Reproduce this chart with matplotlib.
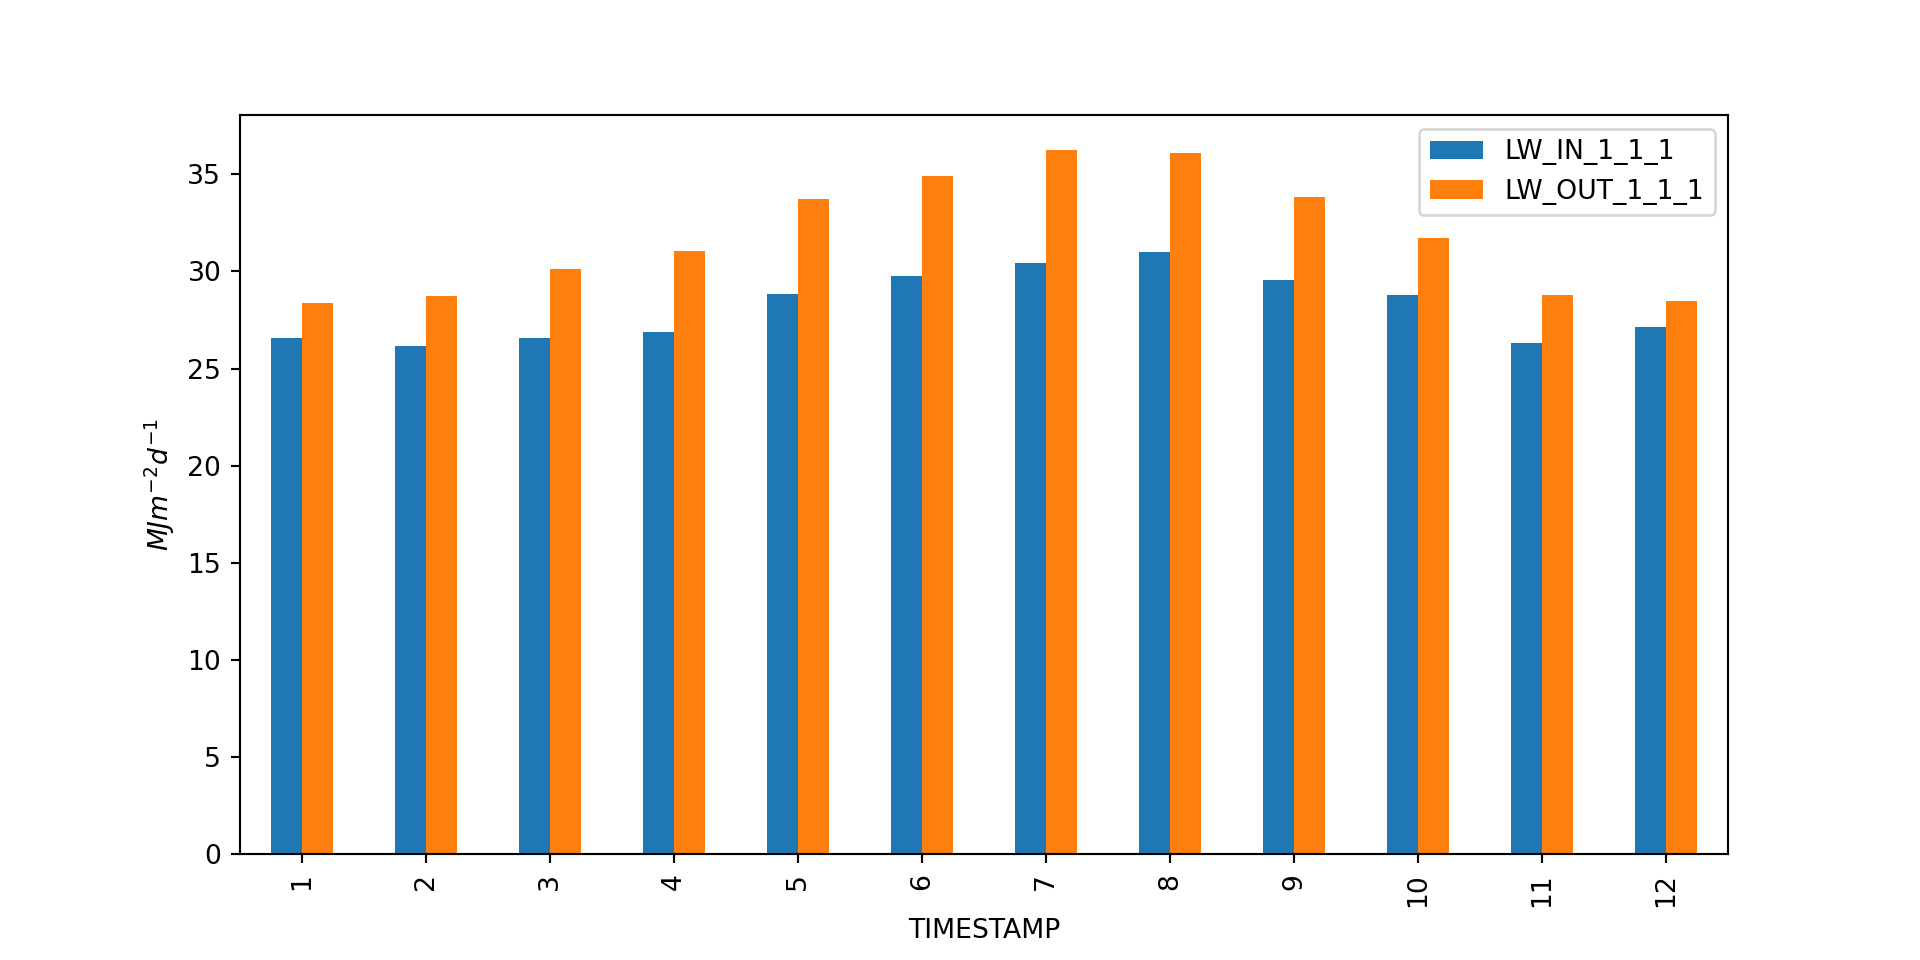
import matplotlib
matplotlib.use("Agg")
import matplotlib.pyplot as plt
import pandas as pd

timestamps = [1, 2, 3, 4, 5, 6, 7, 8, 9, 10, 11, 12]
lw_in = [26.57, 26.16, 26.57, 26.88, 28.83, 29.76, 30.43, 30.99, 29.56, 28.79, 26.31, 27.13]
lw_out = [28.37, 28.73, 30.12, 31.04, 33.71, 34.90, 36.23, 36.08, 33.85, 31.74, 28.79, 28.48]

df = pd.DataFrame({"LW_IN_1_1_1": lw_in, "LW_OUT_1_1_1": lw_out},
                  index=pd.Index(timestamps, name="TIMESTAMP"))

fig, ax = plt.subplots(figsize=(10, 5), dpi=192)
df.plot.bar(ax=ax)
ax.set_ylabel("$MJm^{-2}d^{-1}$")
ax.set_xlabel("TIMESTAMP")
ax.legend(loc="upper right")
fig.savefig("out.png", dpi=192)
